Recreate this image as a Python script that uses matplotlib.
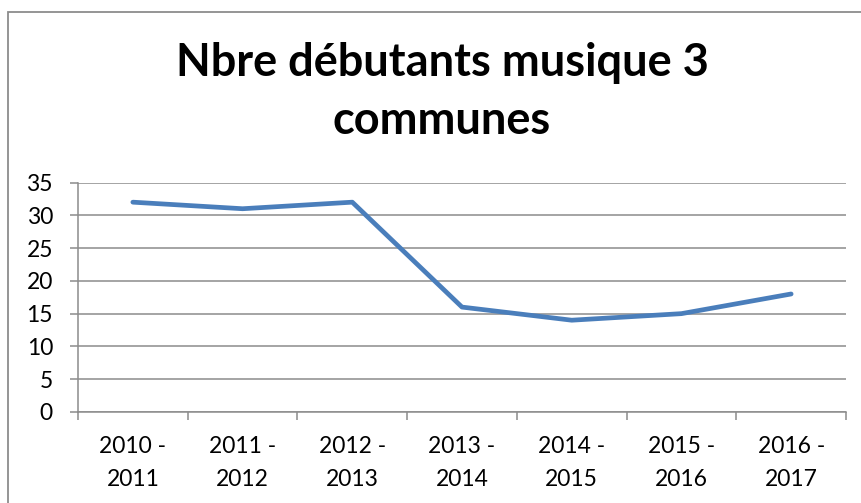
import matplotlib
matplotlib.use("Agg")
import matplotlib.pyplot as plt
from matplotlib.patches import Rectangle

# chart data
saisons = ["2010 -\n2011", "2011 -\n2012", "2012 -\n2013", "2013 -\n2014",
           "2014 -\n2015", "2015 -\n2016", "2016 -\n2017"]
debutants = [32, 31, 32, 16, 14, 15, 18]
y_ticks = [0, 5, 10, 15, 20, 25, 30, 35]

plt.rcParams['font.family'] = ['Lato', 'DejaVu Sans']

W, H = 861, 503
fig = plt.figure(figsize=(W / 100, H / 100), dpi=100)

# outer chart border (right/bottom edges fall outside the picture)
fig.patches.append(Rectangle((8 / W, -0.1), 1.2, 1 - 12 / H + 0.1,
                             transform=fig.transFigure, fill=False,
                             edgecolor="#8c8c8c", linewidth=1.3))

ax = fig.add_axes([78 / W, 1 - 412 / H, (846 - 78) / W, (412 - 182.5) / H])

x = range(len(saisons))
ax.plot(x, debutants, color="#4a7ebb", linewidth=3.4, solid_capstyle="round")

ax.set_xlim(-0.5, len(saisons) - 0.5)
ax.set_ylim(0, 35)
ax.set_yticks(y_ticks)
ax.yaxis.grid(True, color="#8c8c8c", linewidth=1.1)
ax.set_axisbelow(True)

ax.set_xticks(list(x))
ax.set_xticklabels(saisons, fontsize=16.5, linespacing=1.72)
ax.set_xticks([i - 0.5 for i in range(len(saisons) + 1)], minor=True)
ax.tick_params(axis="x", which="major", length=0, pad=17)
ax.tick_params(axis="x", which="minor", length=6, width=1.1, color="#8c8c8c")
ax.tick_params(axis="y", length=6, width=1.1, color="#8c8c8c", labelsize=16.5, pad=12)

for side in ["top", "right"]:
    ax.spines[side].set_visible(False)
for side in ["left", "bottom"]:
    ax.spines[side].set_color("#8c8c8c")
    ax.spines[side].set_linewidth(1.1)

fig.text(442 / W, 1 - 92 / H, "Nbre débutants musique 3\ncommunes",
         ha="center", va="center", fontsize=32.5, fontweight="bold",
         linespacing=1.45)

fig.savefig("out.png", dpi=100)
